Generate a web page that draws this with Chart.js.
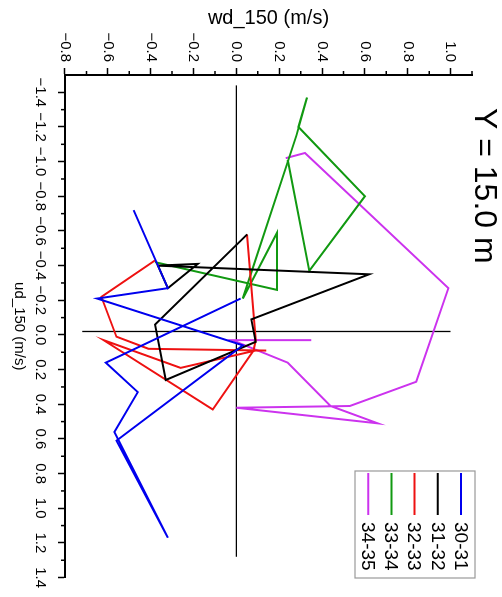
<!DOCTYPE html>
<html>
<head>
<meta charset="utf-8">
<script src="https://cdn.jsdelivr.net/npm/chart.js@4.4.1/dist/chart.umd.min.js"></script>
<style>
  html, body { margin: 0; padding: 0; background: #fff; overflow: hidden; }
  /* chart is drawn upright, then turned a quarter clockwise like the reference */
  #wrap { position: absolute; left: 502px; top: 0; width: 597px; height: 502px;
          transform-origin: 0 0; transform: rotate(90deg); }
</style>
</head>
<body>
<div id="wrap"><canvas id="hodo" width="597" height="502"></canvas></div>
<script>
const family = "'Liberation Sans', Arial, sans-serif";
const titleText = 'Y = 15.0 m';

const seriesLabels = ['30-31', '31-32', '32-33', '33-34', '34-35'];
const seriesColors = ['#0000ee', '#000000', '#ee1111', '#119911', '#cc33ee'];

// ud_150 / wd_150 pairs
const ud3031 = [-0.72, -0.27, -0.21, 0.06, 0.61, 1.17, 0.56, 0.33, 0.16, -0.21];
const wd3031 = [-0.48, -0.32, -0.65, 0.03, -0.56, -0.32, -0.57, -0.46, -0.61, 0.02];

const ud3132 = [-0.41, -0.27, -0.41, -0.40, -0.35, -0.09, 0.04, 0.26, -0.06, -0.58];
const wd3132 = [-0.37, -0.32, -0.18, -0.37, 0.62, 0.07, 0.09, -0.33, -0.38, 0.05];

const ud3233 = [-0.43, -0.22, 0.01, 0.08, 0.09, 0.09, 0.19, 0.03, 0.43, 0.09, 0.03, -0.58];
const wd3233 = [-0.38, -0.63, -0.56, -0.41, 0.14, 0.09, -0.26, -0.62, -0.11, 0.08, 0.09, 0.05];

const ud3334 = [-0.42, -0.26, -0.59, -0.21, -1.15, -1.37, -1.20, -0.80, -0.37, -1.01];
const wd3334 = [-0.38, 0.19, 0.19, 0.03, 0.28, 0.33, 0.29, 0.60, 0.34, 0.24];

const ud3435 = [0.03, 0.03, 0.16, 0.41, 0.51, 0.42, 0.41, 0.27, -0.27, -1.05, -1.02];
const wd3435 = [0.35, -0.02, 0.24, 0.44, 0.66, 0.00, 0.53, 0.84, 0.99, 0.32, 0.23];

// the two thin cross lines
const crossUdA = [-1.44, 1.28];
const crossWdA = [0, 0];
const crossUdB = [-0.02, -0.02];
const crossWdB = [-0.72, 1.0];

const udTicks = [-1.4, -1.2, -1.0, -0.8, -0.6, -0.4, -0.2, 0, 0.2, 0.4, 0.6, 0.8, 1.0, 1.2, 1.4];
const udMinor = [-1.3, -1.1, -0.9, -0.7, -0.5, -0.3, -0.1, 0.1, 0.3, 0.5, 0.7, 0.9, 1.1, 1.3];
const wdTicks = [-0.8, -0.6, -0.4, -0.2, 0, 0.2, 0.4, 0.6, 0.8, 1.0];
const wdMinor = [-0.7, -0.5, -0.3, -0.1, 0.1, 0.3, 0.5, 0.7, 0.9, 1.1];

const pts = (u, w) => u.map((v, i) => ({x: v, y: w[i]}));
const fmt = v => (v < 0 ? '\u2212' : '') + Math.abs(v).toFixed(1);

const seriesData = [pts(ud3031, wd3031), pts(ud3132, wd3132), pts(ud3233, wd3233),
                    pts(ud3334, wd3334), pts(ud3435, wd3435)];

const datasets = seriesData.map((d, i) => ({
    label: seriesLabels[i],
    data: d,
    borderColor: seriesColors[i],
    borderWidth: 2,
    showLine: true,
    pointRadius: 0,
    tension: 0,
    fill: false
}));
[pts(crossUdA, crossWdA), pts(crossUdB, crossWdB)].forEach(d => {
    datasets.push({label: '', data: d, borderColor: '#000', borderWidth: 1.3,
                   showLine: true, pointRadius: 0, fill: false});
});

Chart.defaults.font.family = family;
Chart.defaults.color = '#000';

const extras = {
    id: 'extras',
    afterDraw(chart) {
        const {ctx, scales: {x, y}} = chart;
        ctx.save();
        // minor ticks
        ctx.strokeStyle = '#000';
        ctx.lineWidth = 1.5;
        ctx.beginPath();
        udMinor.forEach(v => { const p = x.getPixelForValue(v); ctx.moveTo(p, x.top); ctx.lineTo(p, x.top + 4); });
        wdMinor.forEach(v => { const p = y.getPixelForValue(v); ctx.moveTo(y.right, p); ctx.lineTo(y.right - 4, p); });
        ctx.stroke();

        // title
        ctx.fillStyle = '#000';
        ctx.textAlign = 'left';
        ctx.textBaseline = 'middle';
        ctx.font = '32px ' + family;
        ctx.fillText(titleText, 108, 18);

        // legend
        ctx.strokeStyle = '#999';
        ctx.lineWidth = 1.2;
        ctx.strokeRect(471, 27, 107, 120);
        ctx.font = '19px ' + family;
        seriesLabels.forEach((lab, i) => {
            const yy = 41 + i * 23.2;
            ctx.strokeStyle = seriesColors[i];
            ctx.lineWidth = 2;
            ctx.beginPath();
            ctx.moveTo(473, yy);
            ctx.lineTo(515, yy);
            ctx.stroke();
            ctx.fillText(lab, 522, yy + 1);
        });
        ctx.restore();
    }
};

new Chart(document.getElementById('hodo'), {
    type: 'scatter',
    data: {datasets: datasets},
    options: {
        responsive: false,
        animation: false,
        layout: {padding: {top: 30, right: 17, left: 0, bottom: 0}},
        plugins: {legend: {display: false}, tooltip: {enabled: false}},
        scales: {
            x: {
                type: 'linear', position: 'bottom', min: -1.5, max: 1.4,
                afterBuildTicks: s => { s.ticks = udTicks.map(v => ({value: v})); },
                afterFit: s => { s.height = 65; },
                ticks: {callback: fmt, padding: 9, font: {size: 15}, maxRotation: 0, autoSkip: false},
                grid: {drawOnChartArea: false, tickLength: 7, tickWidth: 1.5, tickColor: '#000'},
                border: {color: '#000', width: 2},
                title: {display: true, text: 'ud_150 (m/s)', font: {size: 15}, padding: {bottom: 10}}
            },
            y: {
                type: 'linear', position: 'left', min: -0.8, max: 1.1,
                afterBuildTicks: s => { s.ticks = wdTicks.map(v => ({value: v})); },
                afterFit: s => { s.width = 75; },
                ticks: {callback: fmt, padding: 6, font: {size: 15}, autoSkip: false},
                grid: {drawOnChartArea: false, tickLength: 7, tickWidth: 1.5, tickColor: '#000'},
                border: {color: '#000', width: 2},
                title: {display: true, text: 'wd_150 (m/s)', font: {size: 20}, padding: {top: 6}}
            }
        }
    },
    plugins: [extras]
});
</script>
</body>
</html>
